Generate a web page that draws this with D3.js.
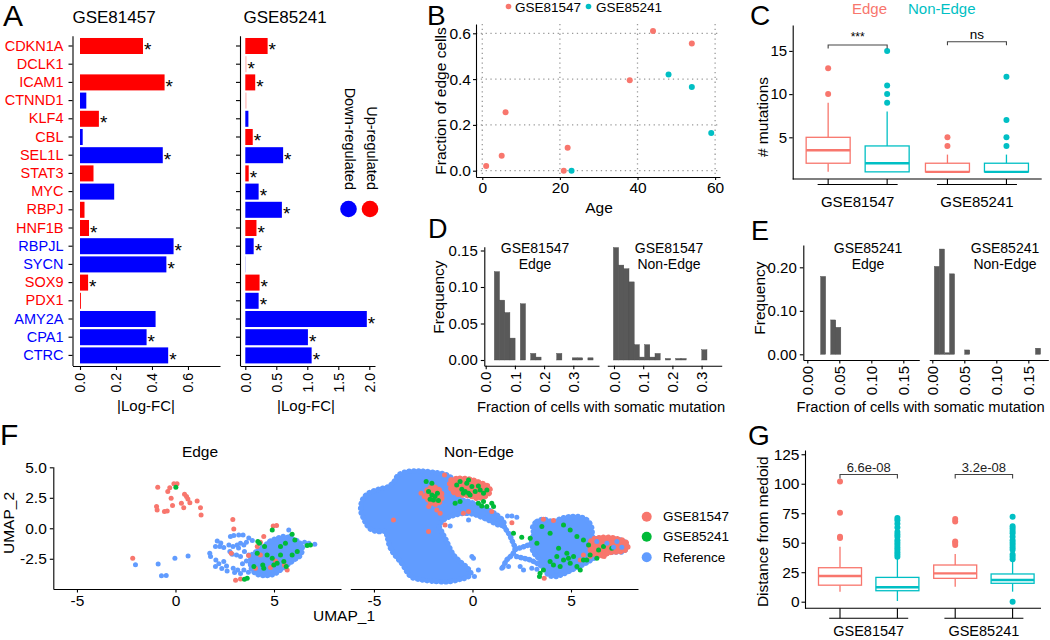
<!DOCTYPE html>
<html><head><meta charset="utf-8">
<script src="https://cdn.jsdelivr.net/npm/d3@7"></script>
<style>body{margin:0;background:#fff;}</style></head>
<body><svg id="fig" width="1050" height="640"></svg>
<script>
// ---------------- DATA ----------------
// Panel A
const genes = ["CDKN1A","DCLK1","ICAM1","CTNND1","KLF4","CBL","SEL1L","STAT3","MYC","RBPJ","HNF1B","RBPJL","SYCN","SOX9","PDX1","AMY2A","CPA1","CTRC"];
const geneLabelDir = ["up","up","up","up","up","up","up","up","up","up","up","down","down","up","up","down","down","down"];
const fc81457 = [0.35,0,0.47,0.035,0.105,0.015,0.46,0.075,0.19,0.025,0.05,0.52,0.48,0.045,0.005,0.42,0.37,0.49];
const dir81457 = ["up","up","up","down","up","down","down","up","down","up","up","down","down","up","up","down","down","down"];
const sig81457 = [1,0,1,0,1,0,1,0,0,0,1,1,1,1,0,0,1,1];
const fade81457 = [0,0,0,0,0,0,0,0,0,0,0,0,0,0,0,0,0,0];
const fc85241 = [0.36,0.02,0.16,0.02,0.05,0.12,0.61,0.055,0.215,0.59,0.18,0.135,0.01,0.23,0.215,1.96,1.01,1.07];
const dir85241 = ["up","up","up","up","down","up","down","up","down","down","up","down","down","up","down","down","down","down"];
const sig85241 = [1,1,1,0,0,1,1,1,1,1,1,1,0,1,1,1,1,1];
const fade85241 = [0,1,0,1,0,0,0,0,0,0,0,0,1,0,0,0,0,0];
const ticksA1 = [0,0.2,0.4,0.6];
const ticksA2 = [0,0.5,1,1.5,2];
// Panel B
const ageRed = [1,5,6,21,22,38,44,54];
const fracRed = [0.02,0.065,0.255,0.0,0.10,0.395,0.61,0.555];
const ageCyan = [23,48,54,59];
const fracCyan = [0.0,0.42,0.365,0.165];
const ticksBx = [0,20,40,60];
const ticksBy = [0,0.2,0.4,0.6];
// Panel C
const groups = ["GSE81547","GSE85241"];
const types = ["Edge","Non-Edge"];
const cStats = [
 {group:"GSE81547",type:"Edge",lo:1,q1:2,med:3.5,q3:5,hi:9,out:[10,13]},
 {group:"GSE81547",type:"Non-Edge",lo:1,q1:1,med:2,q3:4,hi:8,out:[9,10,11,15]},
 {group:"GSE85241",type:"Edge",lo:1,q1:1,med:1,q3:2,hi:3,out:[4,5]},
 {group:"GSE85241",type:"Non-Edge",lo:1,q1:1,med:1,q3:2,hi:3,out:[4,5,7,12]}];
const cSig = ["***","ns"];
const ticksCy = [5,10,15];
// Panel D (histograms)
const dBinW = 0.0178;
const dEdgeStart = 0.0295;
const dEdgeFreq = [0.121,0.082,0.065,0.030,0,0.077,0,0.009,0.004,0,0,0,0.009,0,0,0.003,0.003,0,0.003];
const dNonStart = -0.002;
const dNonFreq = [0.154,0.13,0.125,0.107,0.021,0.004,0.021,0.004,0.009,0,0.002,0,0.002,0.002,0,0,0,0.014];
const ticksDx = [0,0.1,0.2,0.3];
const ticksDy = [0,0.05,0.10,0.15];
// Panel E
const eBinW = 0.0079;
const eEdgeStart = 0.0208;
const eEdgeFreq = [0.179,0,0.079,0.062];
const eNonStart = 0.0032;
const eNonFreq = [0.202,0.242,0.002,0.185,0,0,0.01,0,0,0,0,0,0,0,0,0,0,0,0,0,0.014];
const ticksEx = [0,0.05,0.10,0.15];
const ticksEy = [0,0.10,0.20];
// Panel F (UMAP)
const edgeRefBlob = [[3.89,-2.19],[4.23,-1.78],[4.57,-1.37],[4.82,-1.04],[5.16,-0.82],[5.50,-0.68],[5.84,-0.82],[6.18,-1.04],[6.43,-1.50],[6.35,-2.19],[6.01,-2.60],[5.67,-3.01],[5.33,-3.42],[4.99,-3.77],[4.57,-3.88],[4.15,-3.77],[3.89,-3.42],[3.81,-2.87]];
const edgeRefPts = [[-2.03,-3.0],[-0.88,-2.92],[-0.71,-3.9],[-0.47,-3.88],[-0.03,-2.46],[0.64,-2.27],[2.12,-1.04],[2.03,-1.5],[2.25,-1.5],[1.74,-2.05],[1.78,-2.32],[2.03,-3.14],[2.45,-2.73],[2.59,-3.09],[2.71,-1.37],[2.79,-0.68],[2.96,-0.6],[3.21,-0.55],[3.43,-0.55],[3.13,-1.37],[3.3,-1.23],[3.47,-1.37],[3.6,-1.15],[2.88,-2.13],[3.1,-2.19],[3.3,-2.32],[3.6,-2.68],[2.93,-3.28],[3.16,-3.42],[3.47,-3.42],[2.76,-1.91],[5.75,-0.14],[5.84,-0.63],[6.55,-1.15],[6.77,-1.23],[7.07,-1.31],[6.35,-1.37],[2.45,-1.58],[2.2,-2.9],[2.35,-3.3],[2.62,-3.5],[3.0,-3.62],[3.3,-3.7],[3.7,-3.6],[3.8,-3.0],[3.72,-2.2],[3.5,-1.9],[3.2,-1.62],[2.92,-1.5],[3.9,-1.0],[3.72,-0.8],[2.3,-1.2],[2.05,-2.6],[3.4,-2.9],[3.9,-2.5]];
const edgeRedPts = [[-0.90,3.36],[-0.96,1.78],[-0.93,1.50],[-0.56,1.37],[-0.42,1.42],[-0.39,3.01],[-0.29,3.33],[-0.22,2.46],[-0.15,1.86],[-0.08,3.66],[0.08,3.66],[0.30,2.05],[0.46,2.79],[0.56,2.60],[0.63,2.40],[0.73,2.10],[0.42,1.69],[1.10,2.24],[1.27,1.69],[1.30,1.09],[-2.17,-2.46],[2.91,0.71],[2.96,-0.05],[3.05,-4.26],[3.30,-4.15],[4.96,0.19],[5.13,0.22],[4.48,-0.68],[4.31,-1.15],[4.15,-1.50],[3.71,-2.24],[2.83,-2.05],[5.67,-3.42],[4.31,-2.19],[5.08,-2.68],[5.53,-3.01],[4.82,-3.22],[4.06,-3.28]];
const edgeGreenPts = [[0.02,3.36],[4.91,-0.14],[4.18,-1.09],[4.26,-1.23],[5.92,-0.49],[6.06,-0.96],[6.68,-1.42],[6.85,-1.37],[3.64,-4.10],[3.50,-4.18],[4.99,-3.01],[5.16,-2.87],[4.43,-3.01],[5.50,-2.73],[6.18,-1.91],[4.65,-2.19],[4.15,-2.05],[4.52,-1.50],[5.33,-1.50],[5.58,-1.23],[5.92,-2.19],[4.91,-2.46],[3.98,-3.14],[4.48,-3.28],[5.33,-2.19],[5.62,-3.14]];
const neRefBlobs = [
 [[-5.67,1.78],[-5.57,2.38],[-5.28,2.87],[-4.77,3.20],[-4.26,3.42],[-3.98,3.83],[-3.76,4.37],[-3.33,4.64],[-2.66,4.70],[-1.98,4.59],[-1.39,4.43],[-1.05,4.10],[-0.88,3.55],[-0.80,2.87],[-0.63,2.38],[-0.20,2.19],[0.30,1.91],[0.81,1.50],[1.24,1.09],[1.54,0.63],[1.61,0.27],[1.32,0.27],[0.90,0.60],[0.47,0.90],[0.05,1.15],[-0.37,1.23],[-0.71,1.15],[-1.05,1.01],[-1.34,0.82],[-1.56,0.55],[-1.68,0.19],[-1.56,-0.27],[-1.34,-0.96],[-1.17,-1.56],[-0.96,-2.19],[-0.63,-2.73],[-0.29,-3.20],[-0.08,-3.69],[-0.25,-4.02],[-0.63,-4.18],[-1.13,-4.37],[-1.81,-4.37],[-2.57,-4.23],[-3.08,-4.02],[-3.30,-3.63],[-3.50,-3.09],[-3.76,-2.54],[-4.01,-2.05],[-4.21,-1.45],[-4.31,-0.82],[-4.43,-0.27],[-4.77,-0.27],[-5.11,-0.14],[-5.36,0.27],[-5.53,0.82],[-5.65,1.28]],
 [[3.06,0.14],[3.27,0.55],[3.60,0.74],[4.11,0.55],[4.53,0.82],[5.04,0.96],[5.55,0.90],[5.89,0.55],[6.06,0.0],[6.11,-0.74],[6.48,-0.90],[6.99,-0.96],[7.33,-0.90],[7.75,-1.17],[7.83,-1.56],[7.63,-1.91],[7.16,-1.94],[6.65,-2.10],[6.23,-2.38],[5.89,-2.73],[5.47,-3.09],[5.04,-3.42],[4.62,-3.74],[4.20,-3.96],[3.86,-3.83],[3.69,-3.42],[3.57,-2.87],[3.35,-2.46],[3.13,-2.05],[3.01,-1.56],[3.01,-0.96],[3.10,-0.46]]];
const neRefArms = [
 [[1.49,0.46],[1.66,0.0],[1.88,-0.55],[2.05,-1.17],[2.17,-1.72],[2.00,-2.19],[1.74,-2.60],[1.54,-3.20]],
 [[2.17,-1.72],[2.50,-1.56],[2.84,-1.37],[3.13,-1.09]],
 [[2.25,-2.32],[2.59,-2.46],[2.93,-2.60],[3.27,-2.87],[3.69,-3.28],[4.11,-3.69]]];
const neRefPts = [[-1.13,0.19],[-0.20,0.68],[-0.03,-2.32],[0.05,-2.46],[0.10,-3.96],[0.30,-3.42],[1.78,1.01],[2.00,1.01],[2.25,0.90],[2.42,-3.14],[2.59,-3.42],[3.01,-3.28],[3.27,-3.36],[1.83,-3.14],[1.49,-3.28]];
const neRedBlobs = [
 [[-1.13,3.91],[-0.63,4.10],[-0.12,4.02],[0.39,3.74],[0.81,3.42],[0.90,3.01],[0.64,2.60],[0.22,2.46],[-0.12,2.65],[-0.54,2.73],[-0.88,2.87],[-1.10,3.28]],
 [[-2.28,3.20],[-1.90,3.36],[-1.61,3.01],[-1.56,2.46],[-1.78,1.99],[-2.15,2.10],[-2.32,2.60]],
 [[6.06,-0.96],[6.65,-0.74],[7.33,-0.85],[7.80,-1.17],[7.87,-1.64],[7.53,-1.91],[6.99,-1.99],[6.48,-2.27],[6.11,-2.10],[5.94,-1.56]]];
const neRedPts = [[-1.42,4.37],[-2.61,2.87],[-2.45,2.60],[-2.22,1.78],[-1.81,1.50],[-1.64,1.23],[-4.01,0.68],[-2.23,-0.27],[-1.39,0.27],[0.98,1.37],[-0.20,1.37],[-0.46,1.23],[2.00,0.46],[3.60,0.74],[4.11,0.63],[3.64,-4.10],[6.68,-2.32],[5.63,-2.19],[5.47,-2.60],[5.97,-2.32]];
const neGreenPts = [[-2.23,3.01],[-2.06,2.73],[-1.90,2.60],[-1.78,2.87],[-2.15,2.38],[-1.98,2.32],[-1.73,2.27],[-0.80,3.55],[-0.54,3.20],[-0.37,3.01],[-0.20,2.87],[-0.03,3.42],[0.14,3.01],[0.39,3.14],[0.56,2.87],[0.73,3.14],[-0.63,3.83],[-0.29,3.69],[0.30,3.47],[-0.46,2.87],[-0.12,2.73],[-0.88,2.05],[-0.63,2.19],[0.30,2.05],[0.56,2.19],[0.73,1.78],[0.98,2.05],[1.07,1.78],[0.47,1.83],[-0.20,3.96],[-2.35,3.83],[-2.06,3.69],
 [2.08,-0.41],[2.50,-0.74],[2.93,-0.82],[3.27,-1.23],[3.40,-3.96],[3.43,-3.69],[3.60,-3.42],[3.94,-2.73],[4.28,-2.32],[4.62,-2.60],[4.96,-2.87],[5.30,-3.14],[5.63,-2.60],[4.79,-2.05],[5.13,-2.32],[4.45,-3.14],[4.11,-3.01],[5.47,-3.42],[3.52,0.14],[4.62,0.27],[4.96,-0.14],[5.63,-0.96],[5.89,-1.37],[5.30,-0.68],[6.65,-1.50],[7.07,-1.64],[6.40,-1.78],[5.97,-2.19],[6.31,-2.46],[5.80,-2.60],[4.87,-2.46],[4.37,-1.64],[3.94,-0.41]];
const neRefTopPts = [[6.31,-1.09],[6.82,-1.23],[7.33,-1.09],[7.58,-1.56],[7.16,-1.56]];
const fLegend = ["GSE81547","GSE85241","Reference"];
const ticksFx = [-5,0,5];
const ticksFy = [-2.5,0,2.5,5];
// Panel G
const gStats = [
 {group:"GSE81547",type:"Edge",lo:8.5,q1:14,med:21.8,q3:28.8,hi:46.6,out:[54,55,75.5,102]},
 {group:"GSE81547",type:"Non-Edge",lo:0.6,q1:9.3,med:12.2,q3:20.6,hi:36.7,out:[38,40,42,44,46,48,50,52,55,57,59,63,66,69,71]},
 {group:"GSE85241",type:"Edge",lo:12.7,q1:19.8,med:24,q3:31.1,hi:40.4,out:[48,50,51,68,70]},
 {group:"GSE85241",type:"Non-Edge",lo:8.5,q1:15.6,med:18.4,q3:23.5,hi:33.9,out:[0,36,38,40,44,46,48,50,52,55,58,60,62,64,72]}];
const gSig = ["6.6e-08","3.2e-08"];
const ticksGy = [0,25,50,75,100,125];

// ---------------- DRAW ----------------
const svg = d3.select("#fig");
const FONT = '"Liberation Sans", Arial, Helvetica, sans-serif';
const RED="#F8766D", CYAN="#00BFC4", GREEN="#00BA38", BLUE="#619CFF";
const UP="#FF0000", DOWN="#0000FF";
const typeColor = t => t==="Edge"?RED:CYAN;

function label(x,y,s,size,opt={}){
  const t=svg.append("text").attr("x",x).attr("y",y).text(s).attr("font-size",size)
    .attr("font-family",FONT).attr("fill",opt.fill||"#000").attr("text-anchor",opt.anchor||"start");
  if(opt.rotate) t.attr("transform",`rotate(${opt.rotate},${x},${y})`);
  return t;
}
function styleAxis(g,size){
  g.attr("font-family",FONT).attr("font-size",size);
  g.select(".domain").attr("stroke","#000").attr("stroke-width",1.1);
  g.selectAll(".tick line").attr("stroke","#000").attr("stroke-width",1.1);
  g.selectAll(".tick text").attr("fill","#000");
  return g;
}
function rotTicks(g,off){
  g.selectAll(".tick text").attr("transform","rotate(-90)").attr("text-anchor","end")
   .attr("x",-off).attr("y",0).attr("dy","0.35em");
}
function hline(x1,x2,y,col="#000",w=1.1){svg.append("line").attr("x1",x1).attr("x2",x2).attr("y1",y).attr("y2",y).attr("stroke",col).attr("stroke-width",w);}
function vline(x,y1,y2,col="#000",w=1.1){svg.append("line").attr("x1",x).attr("x2",x).attr("y1",y1).attr("y2",y2).attr("stroke",col).attr("stroke-width",w);}

// ===== Panel A =====
label(3,26,"A",30);
const yA = d3.scaleBand().domain(genes).range([35.8,365.6]).padding(0.12);
const xA1 = d3.scaleLinear().domain([-0.0417,0.778]).range([72.5,220]);
const xA2 = d3.scaleLinear().domain([-0.0855,2.092]).range([240,375]);
function colA(dir,fade){ if(fade) return dir==="up"?"#ffb8b8":"#b8b8ff"; return dir==="up"?UP:DOWN; }
function barsA(x,fc,dir,sig,fade){
  const g=svg.append("g");
  g.selectAll("rect").data(genes).join("rect")
   .attr("x",x(0)).attr("y",d=>yA(d)).attr("height",yA.bandwidth())
   .attr("width",(d,i)=>Math.max(0,x(fc[i])-x(0)))
   .attr("fill",(d,i)=>colA(dir[i],fade[i]));
  g.selectAll("text").data(genes.map((d,i)=>({g:d,v:fc[i],s:sig[i]})).filter(d=>d.s)).join("text")
   .attr("x",d=>x(d.v)+1).attr("y",d=>yA(d.g)+yA.bandwidth()/2+10.5)
   .attr("font-size",19).attr("font-family",FONT).text("*");
}
barsA(xA1,fc81457,dir81457,sig81457,fade81457);
barsA(xA2,fc85241,dir85241,sig85241,fade85241);
let g;
g=svg.append("g").attr("transform","translate(72.5,0)").call(d3.axisLeft(yA).tickSize(4).tickPadding(5).tickSizeOuter(0));
styleAxis(g,14.5); g.selectAll(".tick text").attr("fill",(d,i)=>geneLabelDir[i]==="up"?UP:DOWN);
g=svg.append("g").attr("transform","translate(240,0)").call(d3.axisLeft(yA).tickSize(4).tickFormat("").tickSizeOuter(0));
styleAxis(g,14);
g=svg.append("g").attr("transform","translate(0,366)").call(d3.axisBottom(xA1).tickValues(ticksA1).tickFormat(d3.format(".1f")).tickSize(4).tickSizeOuter(0));
styleAxis(g,14); rotTicks(g,7);
g=svg.append("g").attr("transform","translate(0,366)").call(d3.axisBottom(xA2).tickValues(ticksA2).tickFormat(d3.format(".1f")).tickSize(4).tickSizeOuter(0));
styleAxis(g,14); rotTicks(g,7);
label(114,23,"GSE81457",17,{anchor:"middle"});
label(285,23,"GSE85241",17,{anchor:"middle"});
label(146,411,"|Log-FC|",15,{anchor:"middle"});
label(306,411,"|Log-FC|",15,{anchor:"middle"});
// legend
svg.append("circle").attr("cx",370).attr("cy",209).attr("r",8.3).attr("fill",UP);
svg.append("circle").attr("cx",348.5).attr("cy",209).attr("r",8.3).attr("fill",DOWN);
label(367,190,"Up-regulated",14.5,{anchor:"end",rotate:90});
label(345,190,"Down-regulated",14.5,{anchor:"end",rotate:90});

// ===== Panel B =====
label(427,25,"B",28);
const xB = d3.scaleLinear().domain([-1.62,61.26]).range([476,720]);
const yB = d3.scaleLinear().domain([-0.0275,0.6406]).range([177,24]);
const gridB = svg.append("g").attr("stroke","#9a9a9a").attr("stroke-width",1.3).attr("stroke-dasharray","1.3,3.5");
gridB.selectAll("line.v").data(ticksBx).join("line").attr("class","v").attr("x1",d=>xB(d)).attr("x2",d=>xB(d)).attr("y1",24).attr("y2",177);
gridB.selectAll("line.h").data(ticksBy).join("line").attr("class","h").attr("y1",d=>yB(d)).attr("y2",d=>yB(d)).attr("x1",476).attr("x2",720);
g=svg.append("g").attr("transform","translate(0,177)").call(d3.axisBottom(xB).tickValues(ticksBx).tickSize(3).tickPadding(2).tickSizeOuter(0));
styleAxis(g,15.5);
g=svg.append("g").attr("transform","translate(476,0)").call(d3.axisLeft(yB).tickValues(ticksBy).tickFormat(d3.format(".1f")).tickSize(3).tickPadding(2).tickSizeOuter(0));
styleAxis(g,15.5);
svg.append("g").selectAll("circle").data(ageRed).join("circle").attr("cx",d=>xB(d)).attr("cy",(d,i)=>yB(fracRed[i])).attr("r",3).attr("fill",RED);
svg.append("g").selectAll("circle").data(ageCyan).join("circle").attr("cx",d=>xB(d)).attr("cy",(d,i)=>yB(fracCyan[i])).attr("r",3).attr("fill",CYAN);
label(599,213,"Age",15.5,{anchor:"middle"});
label(446,101,"Fraction of edge cells",15.5,{anchor:"middle",rotate:-90});
svg.append("circle").attr("cx",508.5).attr("cy",6.5).attr("r",2.8).attr("fill",RED);
label(515,11.5,"GSE81547",13.5);
svg.append("circle").attr("cx",588.5).attr("cy",6.5).attr("r",2.8).attr("fill",CYAN);
label(596,11.5,"GSE85241",13.5);

// ===== Box plot helper (C, G) =====
function boxes(stats,xG,sub,y,w,r){
  stats.forEach(s=>{
    const cx=xG(s.group)+xG.bandwidth()/2+sub(s.type), col=typeColor(s.type);
    vline(cx,y(s.hi),y(s.q3),col,1.3); vline(cx,y(s.q1),y(s.lo),col,1.3);
    svg.append("rect").attr("x",cx-w/2).attr("y",y(s.q3)).attr("width",w).attr("height",y(s.q1)-y(s.q3))
      .attr("fill","#fff").attr("stroke",col).attr("stroke-width",1.3);
    hline(cx-w/2,cx+w/2,y(s.med),col,2.4);
    svg.append("g").selectAll("circle").data(s.out).join("circle").attr("cx",cx).attr("cy",d=>y(d)).attr("r",r).attr("fill",col);
  });
}

// ===== Panel C =====
label(750,25,"C",28);
label(852,13.5,"Edge",15,{fill:RED});
label(908,13.5,"Non-Edge",15,{fill:CYAN});
const yC = d3.scaleLinear().domain([0.174,18.0]).range([179,25]);
const xC = d3.scaleBand().domain(groups).range([798,1036.6]);
const subC = d3.scalePoint().domain(types).range([-29.5,29.5]);
g=svg.append("g").attr("transform","translate(792.7,0)").call(d3.axisLeft(yC).tickValues(ticksCy).tickSize(3.5).tickPadding(2).tickSizeOuter(0));
styleAxis(g,15);
hline(792.7,1041.7,179);
boxes(cStats,xC,subC,yC,44,3);
groups.forEach((gr,i)=>{
  const c=xC(gr)+xC.bandwidth()/2;
  types.forEach(t=>vline(c+subC(t),179,184.5));
  hline(c-40,c+40,184.5);
  label(c,207,gr,15,{anchor:"middle"});
  const by = i===0?45:41.7;
  const x1=c+subC("Edge"), x2=c+subC("Non-Edge");
  svg.append("path").attr("d",`M${x1},${by+3.5}V${by}H${x2}V${by+3.5}`).attr("fill","none").attr("stroke","#444").attr("stroke-width",1.1);
  label(c,i===0?41:38.5,cSig[i],i===0?12:13.5,{anchor:"middle"});
});
label(768,117,"# mutations",15.5,{anchor:"middle",rotate:-90});

// ===== Histogram helper (D, E) =====
function hist(freq,start,bw,x,y){
  const bins=freq.map((f,i)=>({x0:start+i*bw,x1:start+(i+1)*bw,f})).filter(b=>b.f>0);
  svg.append("g").selectAll("rect").data(bins).join("rect")
   .attr("x",b=>x(b.x0)).attr("width",b=>x(b.x1)-x(b.x0))
   .attr("y",b=>Math.min(y(b.f),y(0)-1.5)).attr("height",b=>Math.max(1.5,y(0)-y(b.f)))
   .attr("fill","#595959").attr("stroke","#4a4a4a").attr("stroke-width",0.4);
}

// ===== Panel D =====
label(428,238,"D",27);
const yD = d3.scaleLinear().domain([-0.0078,0.1552]).range([365.7,246.7]);
const xD1 = d3.scaleLinear().domain([-0.0048,0.388]).range([484.3,599]);
const xD2 = d3.scaleLinear().domain([-0.0229,0.3688]).range([607.3,721.7]);
hist(dEdgeFreq,dEdgeStart,dBinW,xD1,yD);
hist(dNonFreq,dNonStart,dBinW,xD2,yD);
g=svg.append("g").attr("transform","translate(484.3,0)").call(d3.axisLeft(yD).tickValues(ticksDy).tickFormat(d3.format(".2f")).tickSize(3.5).tickPadding(3).tickSizeOuter(0));
styleAxis(g,15);
[xD1,xD2].forEach(xs=>{
  g=svg.append("g").attr("transform","translate(0,365.7)").call(d3.axisBottom(xs).tickValues(ticksDx).tickFormat(d3.format(".1f")).tickSize(3.5).tickSizeOuter(0));
  styleAxis(g,15); rotTicks(g,6);
});
label(535,253,"GSE81547",14,{anchor:"middle"});
label(535,269,"Edge",14,{anchor:"middle"});
label(669,253,"GSE81547",14,{anchor:"middle"});
label(669,269,"Non-Edge",14,{anchor:"middle"});
label(443.5,297,"Frequency",15.5,{anchor:"middle",rotate:-90});
label(601,412,"Fraction of cells with somatic mutation",14.7,{anchor:"middle"});

// ===== Panel E =====
label(751,240,"E",27);
const yE = d3.scaleLinear().domain([-0.0131,0.2513]).range([360,245]);
const xE1 = d3.scaleLinear().domain([-0.00625,0.175]).range([803.3,919.3]);
const xE2 = d3.scaleLinear().domain([-0.0047,0.1812]).range([929.3,1048.3]);
hist(eEdgeFreq,eEdgeStart,eBinW,xE1,yE);
hist(eNonFreq,eNonStart,eBinW,xE2,yE);
g=svg.append("g").attr("transform","translate(803.3,0)").call(d3.axisLeft(yE).tickValues(ticksEy).tickFormat(d3.format(".2f")).tickSize(3.5).tickPadding(3).tickSizeOuter(0));
styleAxis(g,15);
[xE1,xE2].forEach(xs=>{
  g=svg.append("g").attr("transform","translate(0,360)").call(d3.axisBottom(xs).tickValues(ticksEx).tickFormat(d3.format(".2f")).tickSize(3.5).tickSizeOuter(0));
  styleAxis(g,15); rotTicks(g,6);
});
label(868,253,"GSE85241",14,{anchor:"middle"});
label(868,269,"Edge",14,{anchor:"middle"});
label(1005,253,"GSE85241",14,{anchor:"middle"});
label(1005,269,"Non-Edge",14,{anchor:"middle"});
label(765,298,"Frequency",15.5,{anchor:"middle",rotate:-90});
label(796.5,412,"Fraction of cells with somatic mutation",14.7);

// ===== Panel F =====
label(0,445,"F",30);
const yF = d3.scaleLinear().domain([-4.98,5.05]).range([589,466.7]);
const xF1 = d3.scaleLinear().domain([-6.2,8.4]).range([53.3,341]);
const xF2 = d3.scaleLinear().domain([-6.2,8.4]).range([350.3,638]);
function blob(pts,x,col){
  const ln=d3.line().x(d=>x(d[0])).y(d=>yF(d[1])).curve(d3.curveCatmullRomClosed.alpha(0.5));
  svg.append("path").attr("d",ln(pts)).attr("fill",col).attr("stroke",col).attr("stroke-width",2).attr("stroke-linejoin","round");
  svg.append("path").attr("d",ln(pts)).attr("fill","none").attr("stroke",col).attr("stroke-width",5.5)
    .attr("stroke-linecap","round").attr("stroke-dasharray","0.1,4.6");
}
function arm(pts,x,col){
  const ln=d3.line().x(d=>x(d[0])).y(d=>yF(d[1])).curve(d3.curveCatmullRom.alpha(0.5));
  svg.append("path").attr("d",ln(pts)).attr("fill","none").attr("stroke",col).attr("stroke-width",3.5).attr("stroke-linecap","round").attr("stroke-linejoin","round");
  svg.append("path").attr("d",ln(pts)).attr("fill","none").attr("stroke",col).attr("stroke-width",5.5).attr("stroke-linecap","round").attr("stroke-dasharray","0.1,4.2");
}
function pts(arr,x,col){
  svg.append("g").selectAll("circle").data(arr).join("circle").attr("cx",d=>x(d[0])).attr("cy",d=>yF(d[1])).attr("r",2.5).attr("fill",col);
}
blob(edgeRefBlob,xF1,BLUE); pts(edgeRefPts,xF1,BLUE);
pts(edgeRedPts,xF1,RED); pts(edgeGreenPts,xF1,GREEN);
neRefBlobs.forEach(b=>blob(b,xF2,BLUE)); neRefArms.forEach(a=>arm(a,xF2,BLUE)); pts(neRefPts,xF2,BLUE);
neRedBlobs.forEach(b=>blob(b,xF2,RED)); pts(neRedPts,xF2,RED);
pts(neGreenPts,xF2,GREEN); pts(neRefTopPts,xF2,BLUE);
g=svg.append("g").attr("transform","translate(53.3,0)").call(d3.axisLeft(yF).tickValues(ticksFy).tickFormat(d=>d.toFixed(1)).tickSize(3.5).tickPadding(3).tickSizeOuter(0));
styleAxis(g,15.5);
[xF1,xF2].forEach(xs=>{
  g=svg.append("g").attr("transform","translate(0,589)").call(d3.axisBottom(xs).tickValues(ticksFx).tickFormat(d=>String(d)).tickSize(3.5).tickPadding(2).tickSizeOuter(0));
  styleAxis(g,15.5);
});
label(200,457,"Edge",15.5,{anchor:"middle"});
label(479,457,"Non-Edge",15.5,{anchor:"middle"});
label(344,621,"UMAP_1",15.5,{anchor:"middle"});
label(14,523,"UMAP_2",15.5,{anchor:"middle",rotate:-90});
[RED,GREEN,BLUE].forEach((c,i)=>{
  const yy=[516.7,536.7,557.3][i];
  svg.append("circle").attr("cx",646.7).attr("cy",yy).attr("r",5).attr("fill",c);
  label(663,yy+4.7,fLegend[i],13.5);
});

// ===== Panel G =====
label(748,445,"G",28);
const yG = d3.scaleLinear().domain([-5.6,128.6]).range([608.3,450]);
const xG = d3.scaleBand().domain(groups).range([811.1,1041.5]);
const subG = d3.scalePoint().domain(types).range([-28.7,28.7]);
g=svg.append("g").attr("transform","translate(805,0)").call(d3.axisLeft(yG).tickValues(ticksGy).tickSize(3.5).tickPadding(2).tickSizeOuter(0));
styleAxis(g,15.5);
hline(805,1041,608.3);
boxes(gStats,xG,subG,yG,43,3);
groups.forEach((gr,i)=>{
  const c=xG(gr)+xG.bandwidth()/2;
  types.forEach(t=>vline(c+subG(t),608.3,618.3));
  hline(c-39.5,c+39.5,618.3);
  label(c,635.5,gr,14.5,{anchor:"middle"});
  const x1=c+subG("Edge"), x2=c+subG("Non-Edge"), by=474.5;
  svg.append("path").attr("d",`M${x1},${by+4}V${by}H${x2}V${by+4}`).attr("fill","none").attr("stroke","#444").attr("stroke-width",1.1);
  label(c,471.5,gSig[i],13,{anchor:"middle",fill:"#222"});
});
label(768,531.7,"Distance from medoid",15.5,{anchor:"middle",rotate:-90});
</script></body></html>
